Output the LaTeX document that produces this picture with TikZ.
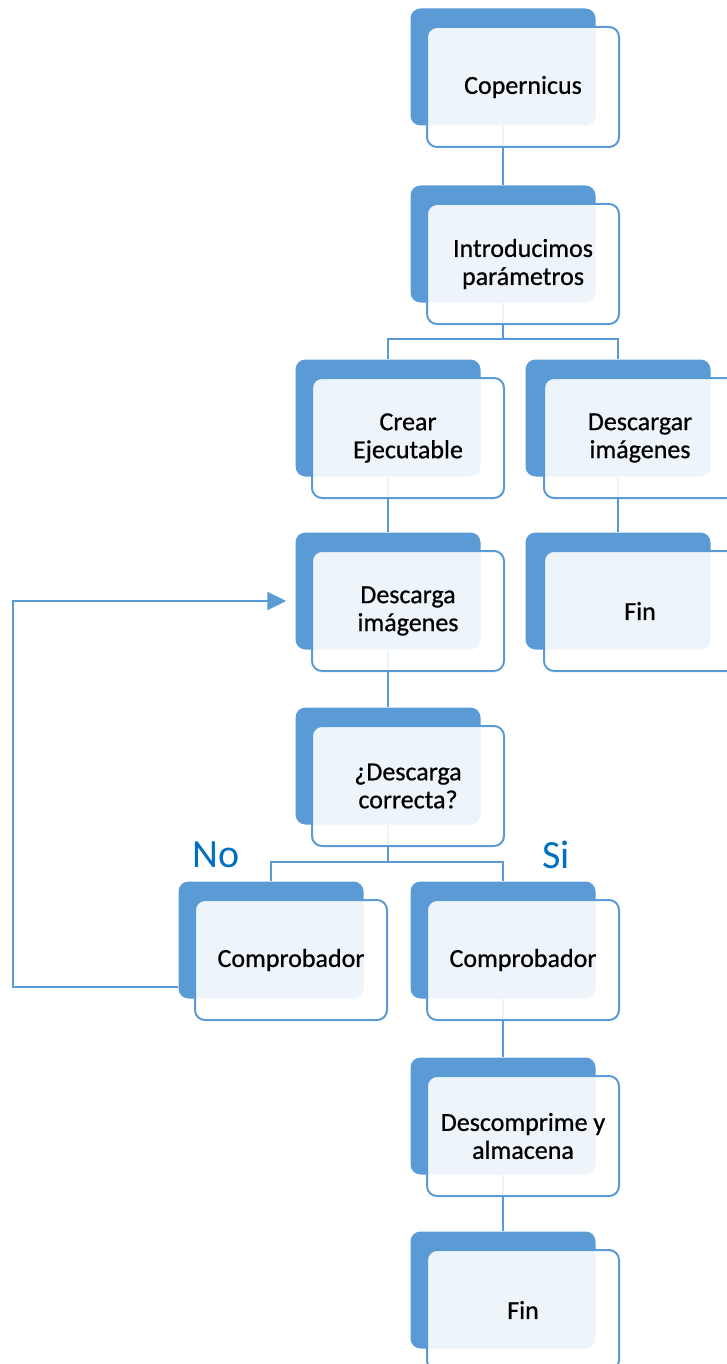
\documentclass[tikz,border=0pt]{standalone}
\usepackage{fontspec}
\setmainfont{Carlito}
\newfontface\boxfont{Carlito}[FakeBold=0.7]
\usetikzlibrary{arrows.meta}

\definecolor{accent}{HTML}{5B9BD5}
\definecolor{labelblue}{HTML}{0070C0}

\tikzset{
  back/.style={rectangle, rounded corners=10pt, fill=accent, minimum width=185pt, minimum height=117pt, inner sep=0pt},
  front/.style={rectangle, rounded corners=10pt, draw=accent, line width=2pt, fill=white, fill opacity=0.9, text opacity=1, minimum width=192pt, minimum height=120pt, inner sep=0pt, align=center, font=\boxfont\fontsize{26}{28}\selectfont},
  link/.style={draw=accent, line width=2pt},
  answer/.style={text=labelblue, font=\fontsize{40}{44}\selectfont},
}

\begin{document}
\begin{tikzpicture}[x=1pt, y=-1pt]
\useasboundingbox (0,0) rectangle (726,1364);

% Dark shapes behind
\node (cop-b) at (503, 67) [back] {};
\node (intro-b) at (503, 244) [back] {};
\node (crear-b) at (388, 418) [back] {};
\node (desc-b) at (618, 418) [back] {};
\node (descarga-b) at (388, 591) [back] {};
\node (finr-b) at (618, 591) [back] {};
\node (check-b) at (388, 766) [back] {};
\node (no-b) at (271, 940) [back] {};
\node (si-b) at (503, 940) [back] {};
\node (descomp-b) at (503, 1116) [back] {};
\node (fin-b) at (503, 1290) [back] {};

% Connectors
\draw[link] (cop-b.south) -- (intro-b.north);
\draw[link] (intro-b.south) -- ++(0, 36) -| (crear-b.north);
\draw[link] (intro-b.south) -- ++(0, 36) -| (desc-b.north);
\draw[link] (crear-b.south) -- (descarga-b.north);
\draw[link] (desc-b.south) -- (finr-b.north);
\draw[link] (descarga-b.south) -- (check-b.north);
\draw[link] (check-b.south) -- ++(0, 37) -| (no-b.north);
\draw[link] (check-b.south) -- ++(0, 37) -| (si-b.north);
\draw[link] (si-b.south) -- (descomp-b.north);
\draw[link] (descomp-b.south) -- (fin-b.north);

% back to the download
\draw[link, -{Triangle[length=19pt, width=18pt]}] ([yshift=12pt]no-b.south west) -- ++(-165, 0) |- ([xshift=-9pt, yshift=-10pt]descarga-b.west);

% Light boxes with the text
\node (cop) at (523, 87) [front] {Copernicus};
\node (intro) at (523, 264) [front] {Introducimos\\par\'ametros};
\node (crear) at (408, 438) [front] {Crear\\Ejecutable};
\node (desc) at (640, 438) [front] {Descargar\\im\'agenes};
\node (descarga) at (408, 611) [front] {Descarga\\im\'agenes};
\node (finr) at (640, 611) [front] {Fin};
\node (check) at (408, 786) [front] {¿Descarga\\correcta?};
\node (no) at (291, 960) [front] {Comprobador};
\node (si) at (523, 960) [front] {Comprobador};
\node (descomp) at (523, 1136) [front] {Descomprime y\\almacena};
\node (fin) at (523, 1310) [front] {Fin};

% No / Si
\node (no-lbl) at (216, 855) [answer] {No};
\node (si-lbl) at (556, 855) [answer] {Si};

\end{tikzpicture}
\end{document}
